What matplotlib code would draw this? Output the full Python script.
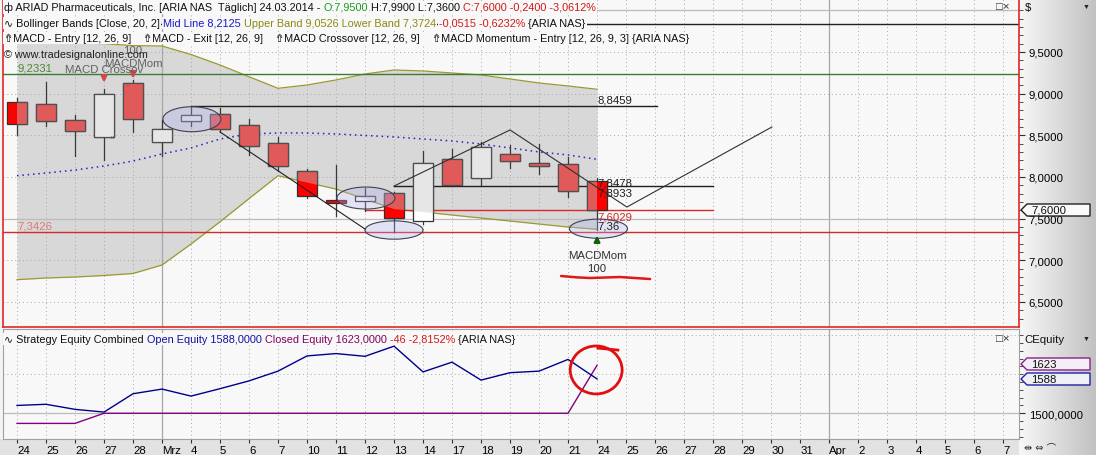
import matplotlib
matplotlib.use("Agg")
import matplotlib.pyplot as plt
from matplotlib.patches import Rectangle, Ellipse, Polygon
import numpy as np

plt.rcParams['font.family'] = ['Liberation Sans', 'DejaVu Sans', 'Noto Sans CJK JP']

W, H = 1096, 456
BG = '#F8F8F8'
FS = 7.8

# ── data ─────────────────────────────────────────────────────────────────────
x_labels = ['24', '25', '26', '27', '28', 'Mrz', '4', '5', '6', '7', '10', '11', '12', '13', '14',
            '17', '18', '19', '20', '21', '24', '25', '26', '27', '28', '29', '30', '31', 'Apr',
            '2', '3', '4', '5', '6', '7']

opens  = [8.896, 8.872, 8.684, 8.476, 9.124, 8.416, 8.668, 8.752, 8.628, 8.404, 8.068,
          7.727, 7.708, 7.804, 7.475, 8.216, 7.984, 8.272, 8.164, 8.152, 7.95]
highs  = [8.944, 9.136, 8.744, 9.056, 9.160, 8.684, 8.836, 8.824, 8.696, 8.476, 8.096,
          8.144, 7.868, 7.820, 8.315, 8.336, 8.416, 8.384, 8.396, 8.236, 7.99]
lows   = [8.504, 8.615, 8.255, 8.207, 8.543, 8.255, 8.615, 8.540, 8.264, 8.076, 7.744,
          7.535, 7.595, 7.343, 7.435, 7.895, 7.907, 8.108, 8.036, 7.756, 7.36]
closes = [8.632, 8.668, 8.548, 8.992, 8.696, 8.576, 8.744, 8.576, 8.368, 8.128, 7.775,
          7.684, 7.768, 7.504, 8.164, 7.907, 8.356, 8.188, 8.128, 7.835, 7.60]

bb_upper = [9.62, 9.62, 9.61, 9.60, 9.576, 9.572, 9.47, 9.344, 9.203, 9.064, 9.104,
            9.164, 9.236, 9.284, 9.272, 9.248, 9.224, 9.176, 9.128, 9.092, 9.0526]
bb_lower = [6.767, 6.787, 6.799, 6.817, 6.841, 6.943, 7.195, 7.462, 7.74, 8.015, 7.933,
            7.855, 7.735, 7.615, 7.579, 7.543, 7.507, 7.471, 7.435, 7.399, 7.3724]
bb_mid   = [8.015, 8.047, 8.083, 8.131, 8.191, 8.276, 8.348, 8.456, 8.516, 8.528, 8.528,
            8.516, 8.498, 8.48, 8.456, 8.432, 8.396, 8.348, 8.3, 8.264, 8.2125]

open_equity   = [1520, 1523, 1510, 1503, 1550, 1562, 1544, 1563, 1583, 1608, 1647,
                 1653, 1646, 1672, 1606, 1631, 1585, 1604, 1608, 1638, 1588]
closed_equity = [1474, 1474, 1474, 1500, 1500, 1500, 1500, 1500, 1500, 1500, 1500,
                 1500, 1500, 1500, 1500, 1500, 1500, 1500, 1500, 1500, 1623]

# drawn objects
full_lines   = [(9.836, '#202020'), (9.2331, '#3E7A36'), (7.3426, '#D42A2A')]
seg_levels   = [8.8459, 7.8933, 7.6029]
seg_start    = [6.0, 13.0, 12.0]
seg_end      = [22.07, 24.0, 24.0]
seg_colors   = ['#202020', '#202020', '#D42A2A']
trend_x      = [7.0, 12.0]
trend_y      = [8.54, 7.375]
zigzag_x     = [13.0, 17.0, 21.03, 26.03]
zigzag_y     = [7.891, 8.564, 7.639, 8.60]
ell_x        = [6.03, 12.03, 13.0, 20.05]
ell_y        = [8.693, 7.747, 7.363, 7.379]
ell_h        = [0.30, 0.264, 0.22, 0.23]
scribble_x   = [18.76, 19.3, 19.76, 20.79, 21.83]
scribble_y   = [6.811, 6.795, 6.787, 6.799, 6.775]

n = len(opens)
idx = np.arange(n)
all_idx = np.arange(len(x_labels))

fig = plt.figure(figsize=(W / 100, H / 100), dpi=100, facecolor='#F4F4F4')

# right-hand scale strip with a grey gradient
grad = np.linspace(0.97, 0.76, 64).reshape(1, -1)
axg = fig.add_axes([1019 / W, 0, 77 / W, 1], zorder=-1)
axg.imshow(np.dstack([grad, grad, grad]), aspect='auto', extent=[0, 1, 0, 1])
axg.set_axis_off()
fig.add_artist(Rectangle((0, 0), 1019 / W, 16 / H, transform=fig.transFigure,
                         fc='#E2E2E2', ec='none', zorder=-1))

ax = fig.add_axes([3 / W, 1 - 328 / H, 1016 / W, 328 / H], facecolor=BG)
axe = fig.add_axes([3 / W, 1 - 440 / H, 1016 / W, 110 / H], facecolor=BG, sharex=ax)

ax.set_xlim(-0.483, 34.55)
ax.set_ylim(6.199, 10.136)
axe.set_ylim(1434, 1716)

# ── grid ─────────────────────────────────────────────────────────────────────
for a in (ax, axe):
    for i in all_idx:
        if x_labels[i] in ('Mrz', 'Apr'):
            a.axvline(i, color='#A8A8A8', lw=0.9, zorder=1.5)
        else:
            a.axvline(i, color='#A8A8A8', lw=0.7, ls=(0, (1, 3)), zorder=1.5)
for lv in [6.5, 7.0, 8.0, 8.5, 9.0, 9.5]:
    ax.axhline(lv, color='#A8A8A8', lw=0.7, ls=(0, (1, 3)), zorder=1.5)
for lv in [7.5, 10.0]:
    ax.axhline(lv, color='#BBBBBB', lw=0.9, zorder=1.5)
for lv in [1600, 1700]:
    axe.axhline(lv, color='#A8A8A8', lw=0.7, ls=(0, (1, 3)), zorder=1.5)
axe.axhline(1500, color='#BBBBBB', lw=0.9, zorder=1.5)

# ── bollinger band ───────────────────────────────────────────────────────────
band = ax.fill_between(idx, bb_lower, bb_upper, color='#D8D8D8', lw=0, zorder=1)
band_path = band.get_paths()[0]
ax.plot(idx, bb_upper, color='#9A9A2E', lw=0.9, zorder=2)
ax.plot(idx, bb_lower, color='#9A9A2E', lw=0.9, zorder=2)
ax.plot(idx, bb_mid, color='#2222C8', lw=1.1, ls=(0, (1, 2.5)), zorder=2)

# ── reference lines ──────────────────────────────────────────────────────────
for lv, c in full_lines:
    ax.axhline(lv, color=c, lw=1, zorder=2)
for lv, s, e, c in zip(seg_levels, seg_start, seg_end, seg_colors):
    ax.plot([s, e], [lv, lv], color=c, lw=1, zorder=2.5)
ax.plot(trend_x, trend_y, color='#202020', lw=0.8, zorder=5)
ax.plot(zigzag_x, zigzag_y, color='#303030', lw=0.8, zorder=5)

# ── candles ──────────────────────────────────────────────────────────────────
w = 0.69
for i in idx:
    o, h, l, c = opens[i], highs[i], lows[i], closes[i]
    ax.plot([i, i], [l, h], color='#383838', lw=0.9, zorder=3)
    up = c >= o
    bottom, height = min(o, c), max(abs(c - o), 0.01)
    r = Rectangle((i - w / 2, bottom), w, height, fc='white' if up else '#FF0000',
                  ec='#303030', lw=0.9, zorder=3.2)
    ax.add_patch(r)
    # lighter shade where the candle sits inside the band
    r2 = Rectangle((i - w / 2, bottom), w, height, fc='#E6E6E6' if up else '#E05A5A',
                   ec='#505050', lw=0.9, zorder=3.4)
    ax.add_patch(r2)
    r2.set_clip_path(band_path, ax.transData)

for ex, ey, eh in zip(ell_x, ell_y, ell_h):
    ax.add_patch(Ellipse((ex, ey), 2.0, eh, fc='#B0B0F0', alpha=0.3, ec='none', zorder=4))
    ax.add_patch(Ellipse((ex, ey), 2.0, eh, fc='none', ec='#404050', lw=0.8, zorder=4))

# signal arrows and labels
ax.annotate('', xy=(3, 9.10), xytext=(3, 9.23),
            arrowprops=dict(arrowstyle='-|>', color='#D04848', lw=1.8, mutation_scale=8), zorder=6)
ax.annotate('', xy=(4, 9.15), xytext=(4, 9.27),
            arrowprops=dict(arrowstyle='-|>', color='#D04848', lw=1.8, mutation_scale=8), zorder=6)
ax.annotate('', xy=(20, 7.33), xytext=(20, 7.20),
            arrowprops=dict(arrowstyle='-|>', color='#106010', lw=1.8, mutation_scale=8), zorder=6)
ax.text(3, 9.30, 'MACD Crossov', ha='center', va='center', fontsize=FS + 0.4, color='#606060', zorder=6)
ax.text(4, 9.37, 'MACDMom', ha='center', va='center', fontsize=FS + 0.4, color='#606060', zorder=6)
ax.text(4, 9.52, '100', ha='center', va='center', fontsize=FS + 0.4, color='#606060', zorder=6)
ax.text(20, 7.06, 'MACDMom', ha='center', va='center', fontsize=FS + 0.4, color='#303030', zorder=6)
ax.text(20, 6.905, '100', ha='center', va='center', fontsize=FS + 0.4, color='#303030', zorder=6)
ax.text(3.2, 8.47, '«', color='#3A8A3A', fontsize=6, va='center', zorder=6)
ax.text(3.75, 9.10, '×', color='#D04848', fontsize=5, va='center', zorder=6)

ax.text(0.0, 9.308, '9,2331', color='#4A8A3A', fontsize=FS + 0.4, va='center', zorder=6)
ax.text(0.0, 7.423, '7,3426', color='#E07878', fontsize=FS + 0.4, va='center', zorder=6)
ax.text(20.03, 8.93, '8,8459', color='#202020', fontsize=FS + 0.4, va='center', zorder=6)
ax.text(20.03, 7.93, '7,8478', color='#202020', fontsize=FS + 0.4, va='center', zorder=6)
ax.text(20.03, 7.81, '7,8933', color='#202020', fontsize=FS + 0.4, va='center', zorder=6)
ax.text(20.03, 7.53, '7,6029', color='#D42A2A', fontsize=FS + 0.4, va='center', zorder=6)
ax.text(20.03, 7.415, '7,36', color='#202020', fontsize=FS + 0.4, va='center', zorder=6)

ax.plot(scribble_x, scribble_y, color='#E01818', lw=1.8, zorder=6, solid_capstyle='round')

# ── equity ───────────────────────────────────────────────────────────────────
axe.plot(idx, closed_equity, color='#800080', lw=1, zorder=3)
axe.plot(idx, open_equity, color='#00008B', lw=1, zorder=3)
axe.add_patch(Ellipse((19.97, 1611), 1.79, 123, fc='none', ec='#E01010', lw=2, zorder=5))
axe.plot([20.03, 20.72], [1667, 1662], color='#E01010', lw=2, zorder=5)

# ── axes styling ─────────────────────────────────────────────────────────────
for s in ax.spines.values():
    s.set_color('#E02828')
    s.set_linewidth(1.2)
for s in axe.spines.values():
    s.set_color('#A0A0A0')
    s.set_linewidth(0.8)

ax.tick_params(axis='x', bottom=False, labelbottom=False)
ax.yaxis.tick_right()
yt = [6.5, 7.0, 7.5, 8.0, 8.5, 9.0, 9.5]
ax.set_yticks(yt)
ax.set_yticklabels([f"{v:.4f}".replace('.', ',') for v in yt])
ax.set_yticks(np.arange(6.3, 10.1, 0.1), minor=True)
ax.tick_params(axis='y', which='major', length=4, pad=3, labelsize=FS + 0.4, color='#303030')
ax.tick_params(axis='y', which='minor', length=3, color='#303030')

axe.yaxis.tick_right()
axe.set_yticks([1500])
axe.set_yticklabels(['1500,0000'])
axe.set_yticks(np.arange(1440, 1720, 20), minor=True)
axe.tick_params(axis='y', which='major', length=4, pad=3, labelsize=FS + 0.4, color='#303030')
axe.tick_params(axis='y', which='minor', length=3, color='#303030')

axe.set_xticks(all_idx)
axe.set_xticklabels(x_labels)
axe.tick_params(axis='x', length=3, pad=1, labelsize=FS + 0.4, color='#303030')
for lab in axe.get_xticklabels():
    lab.set_ha('left')

# ── header text rows ─────────────────────────────────────────────────────────
ov = fig.add_axes([0, 0, 1, 1], zorder=10)
ov.set_axis_off()
ov.set_xlim(0, W)
ov.set_ylim(H, 0)


def text_row(x, y, parts, size=FS, bg=BG):
    prev = None
    for s, c in parts:
        kw = dict(color=c, fontsize=size, va='center', ha='left', annotation_clip=False)
        if bg:
            kw['bbox'] = dict(boxstyle='square,pad=0.12', fc=bg, ec='none')
        if prev is None:
            prev = ov.annotate(s, xy=(x, y), xycoords='data', **kw)
        else:
            prev = ov.annotate(s, xy=(1, 0.5), xycoords=prev, xytext=(2.2, 0),
                               textcoords='offset points', **kw)


text_row(4, 8, [('ф ARIAD Pharmaceuticals, Inc. [ARIA NAS  Täglich] 24.03.2014 -', '#101010'),
                ('O:7,9500', '#1E9A1E'), ('H:7,9900 L:7,3600', '#101010'),
                ('C:7,6000 -0,2400 -3,0612%', '#D01818')])
text_row(4, 24, [('∿ Bollinger Bands [Close, 20, 2]', '#101010'), ('Mid Line 8,2125', '#1818C8'),
                 ('Upper Band 9,0526 Lower Band 7,3724', '#8A8A10'),
                 ('-0,0515 -0,6232%', '#D01818'), ('{ARIA NAS}', '#101010')])
text_row(4, 39, [('⇮MACD - Entry [12, 26, 9]', '#101010'), ('   ⇮MACD - Exit [12, 26, 9]', '#101010'),
                 ('   ⇮MACD Crossover [12, 26, 9]', '#101010'),
                 ('   ⇮MACD Momentum - Entry [12, 26, 9, 3] {ARIA NAS}', '#101010')])
text_row(4, 55, [('© www.tradesignalonline.com', '#202020')], bg=None)
text_row(4, 340, [('∿ Strategy Equity Combined', '#101010'), ('Open Equity 1588,0000', '#1010A0'),
                  ('Closed Equity 1623,0000', '#800060'), ('-46 -2,8152%', '#D01818'),
                  ('{ARIA NAS}', '#101010')])

# right strip widgets
ov.text(1025, 8, '$', fontsize=FS + 0.4, va='center', color='#101010')
ov.text(1083, 7, '▼', fontsize=5, va='center', color='#202020')
ov.text(1024, 340, 'CEquity', fontsize=FS + 0.4, va='center', color='#101010')
ov.text(1083, 339, '▼', fontsize=5, va='center', color='#202020')
ov.text(996, 7, '□×', fontsize=FS + 0.4, va='center', color='#303030')
ov.text(996, 339, '□×', fontsize=FS + 0.4, va='center', color='#303030')
ov.text(1024, 448, '⇹ ⇔ ⌒', fontsize=7, va='center', color='#303030',
        family=['DejaVu Sans', 'Noto Sans CJK JP'])


def price_tag(y, label, ec, fc):
    pts = [(1021, y), (1027, y - 6), (1090, y - 6), (1090, y + 6), (1027, y + 6)]
    ov.add_patch(Polygon(pts, closed=True, fc=fc, ec=ec, lw=1, zorder=5, clip_on=False))
    ov.text(1031, y, label, fontsize=FS + 0.4, va='center', color='#101010', zorder=6)


price_tag(211, '7,6000', '#202020', '#FAFAFA')
price_tag(365, '1623', '#8A208A', '#F4EEF6')
price_tag(380, '1588', '#2020A0', '#EEF0F8')

fig.savefig('out.png', dpi=100, facecolor=fig.get_facecolor())
